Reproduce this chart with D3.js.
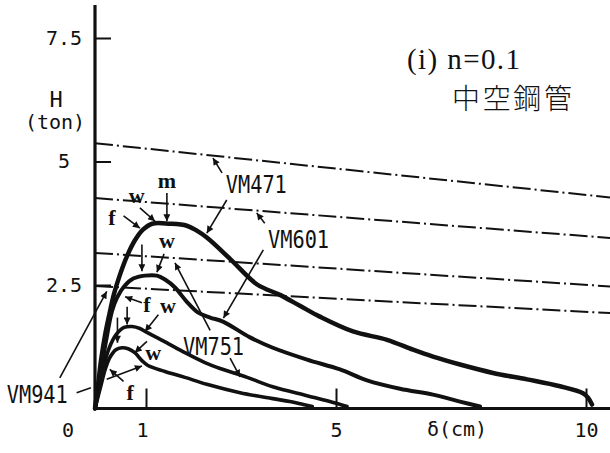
<!DOCTYPE html>
<html>
<head>
<meta charset="utf-8">
<script src="https://cdn.jsdelivr.net/npm/d3@7"></script>
<style>
  html, body { margin: 0; padding: 0; background: #fff; }
  svg { display: block; }
  .mono { font-family: "DejaVu Sans Mono", monospace; fill: #111; }
  .serif { font-family: "Liberation Serif", "Times New Roman", serif; fill: #111; }
</style>
</head>
<body>
<div id="chart"></div>
<script>
const width = 610;
const height = 453;

const xTicks = [1, 5, 10];
const yTicks = [2.5, 5, 7.5];
const yTickLabels = ["2.5", "5", "7.5"];

const specimens = ["VM471", "VM601", "VM751", "VM941"];

// measured H-delta curves, delta in cm, H in ton
const deltaVM471 = [0, 0.06, 0.12, 0.2, 0.28, 0.37, 0.49, 0.63, 0.78, 0.94, 1.13, 1.5, 1.86, 2.07, 2.28, 2.77, 3.34, 3.82, 4.24, 4.66, 5.34, 6.02, 6.54, 6.94, 7.48, 8.14, 8.82, 9.48, 9.94, 10.04, 10.12];
const hVM471 = [0, 0.48, 0.99, 1.5, 1.9, 2.31, 2.71, 3.09, 3.4, 3.62, 3.74, 3.74, 3.7, 3.6, 3.46, 3.03, 2.51, 2.3, 2.08, 1.86, 1.56, 1.39, 1.19, 1.05, 0.89, 0.72, 0.59, 0.45, 0.31, 0.22, 0.08];

const deltaVM601 = [0, 0.08, 0.16, 0.24, 0.33, 0.43, 0.57, 0.75, 0.98, 1.23, 1.4, 1.61, 1.86, 2.1, 2.35, 2.62, 3.19, 3.67, 4.39, 5.08, 5.62, 6.28, 6.94, 7.48, 7.88];
const hVM601 = [0, 0.48, 1.03, 1.5, 1.96, 2.24, 2.47, 2.63, 2.69, 2.69, 2.61, 2.45, 2.16, 1.94, 1.84, 1.76, 1.44, 1.23, 0.99, 0.79, 0.57, 0.4, 0.28, 0.14, 0.04];

const deltaVM751 = [0, 0.1, 0.18, 0.28, 0.41, 0.57, 0.73, 0.88, 1.02, 1.4, 1.82, 2.24, 2.56, 3.13, 3.67, 4.39, 4.87, 5.22];
const hVM751 = [0, 0.48, 0.89, 1.23, 1.49, 1.64, 1.66, 1.62, 1.54, 1.35, 1.13, 0.93, 0.81, 0.63, 0.44, 0.26, 0.14, 0.04];

const deltaVM941 = [0, 0.12, 0.2, 0.29, 0.41, 0.53, 0.65, 0.78, 0.92, 1.04, 1.4, 1.82, 2.28, 2.98, 3.67, 4.03, 4.31, 4.5];
const hVM941 = [0, 0.48, 0.79, 1.03, 1.19, 1.23, 1.21, 1.13, 0.97, 0.87, 0.75, 0.63, 0.49, 0.32, 0.2, 0.14, 0.08, 0.04];

// dash-dot lines (one per specimen): H at delta = 0 and at the right end
const lineDeltaEnd = 10.5;
const lineH0 = [5.37, 4.26, 3.15, 2.48];
const lineH1 = [4.27, 3.45, 2.47, 1.93];

const curves = [
  {name: "VM471", d: deltaVM471, h: hVM471, w: 4.5},
  {name: "VM601", d: deltaVM601, h: hVM601, w: 4},
  {name: "VM751", d: deltaVM751, h: hVM751, w: 3.6},
  {name: "VM941", d: deltaVM941, h: hVM941, w: 3.6}
];

// annotation arrows [d1, h1, d2, h2], head at the second point
const arrows = [
  [0.56, 3.9, 0.88, 3.65], [0.88, 4.06, 1.19, 3.79], [1.44, 4.36, 1.44, 3.79],
  [0.92, 3.32, 0.92, 2.78], [1.38, 3.13, 1.23, 2.76], [0.92, 2.14, 0.59, 2.26],
  [0.63, 2.06, 0.63, 1.7], [1.26, 1.9, 0.98, 1.56],
  [0.44, 1.84, 0.44, 1.33], [1.02, 1.36, 0.78, 1.13], [0.56, 0.55, 0.29, 0.79],
  [0.23, 0.59, 0.92, 0.86], [-0.69, 0.62, 0.23, 2.37],
  [2.6, 4.77, 2.41, 5.07], [2.7, 4.22, 2.28, 3.55],
  [3.5, 3.75, 3.33, 3.96], [3.47, 3.21, 2.63, 1.83],
  [2.35, 1.58, 1.61, 2.95], [2.77, 1.02, 2.98, 0.64]
];
const plainLines = [[-0.36, 0.32, -0.08, 0.42]];

// f / w / m marks (x centre, baseline)
const letters = [
  ["m", 1.44, 4.47], ["w", 0.82, 4.16], ["f", 0.33, 3.72],
  ["w", 1.44, 3.25], ["f", 1.02, 1.96], ["w", 1.46, 1.94],
  ["w", 1.15, 0.99], ["f", 0.69, 0.18]
];
// specimen labels (left x, baseline)
const nameX = [2.68, 3.57, 1.78, -1.73];
const nameH = [4.37, 3.25, 1.09, 0.12];

const x = d3.scaleLinear().domain([0, 1, 5, 10]).range([95, 146, 336, 586]);
const y = d3.scaleLinear().domain([0, 7.5]).range([408.5, 38]);

const svg = d3.select("#chart")
  .append("svg")
  .attr("width", width)
  .attr("height", height);

svg.append("defs").append("marker")
  .attr("id", "arrow")
  .attr("viewBox", "0 0 10 10")
  .attr("refX", 10)
  .attr("refY", 5)
  .attr("markerWidth", 9)
  .attr("markerHeight", 7)
  .attr("markerUnits", "userSpaceOnUse")
  .attr("orient", "auto")
  .append("path")
  .attr("d", "M0,0 L10,5 L0,10 Z")
  .attr("fill", "#111");

// dash-dot lines
svg.selectAll("line.ref")
  .data(lineH0)
  .enter()
  .append("line")
  .attr("class", "ref")
  .attr("x1", x(0))
  .attr("y1", d => y(d))
  .attr("x2", x(lineDeltaEnd))
  .attr("y2", (d, i) => y(lineH1[i]))
  .attr("stroke", "#111")
  .attr("stroke-width", 2)
  .attr("stroke-dasharray", "18,4,2,4");

// axes
const yAxis = d3.axisLeft(y).tickValues(yTicks).tickSize(-16).tickFormat((d, i) => yTickLabels[i]);
const gy = svg.append("g").attr("transform", `translate(${x(0)},0)`).call(yAxis);
gy.select(".domain").remove();
gy.selectAll(".tick line").attr("stroke", "#111").attr("stroke-width", 2);
gy.selectAll(".tick text")
  .attr("class", "mono")
  .attr("x", -31)
  .attr("text-anchor", "middle")
  .style("font-size", "20px");

const xAxis = d3.axisBottom(x).tickValues(xTicks).tickSize(-20).tickPadding(14);
const gx = svg.append("g").attr("transform", `translate(0,${y(0)})`).call(xAxis);
gx.select(".domain").remove();
gx.selectAll(".tick line").attr("stroke", "#111").attr("stroke-width", 2);
gx.selectAll(".tick text")
  .attr("class", "mono")
  .attr("dx", d => d === 1 ? -4 : 0)
  .style("font-size", "20px");

svg.append("line")
  .attr("x1", x(0)).attr("x2", x(0))
  .attr("y1", y(8.17)).attr("y2", y(0) + 1)
  .attr("stroke", "#111").attr("stroke-width", 3.2);
svg.append("line")
  .attr("x1", x(0)).attr("x2", width)
  .attr("y1", y(0)).attr("y2", y(0))
  .attr("stroke", "#111").attr("stroke-width", 2.8);

// curves
const line = d3.line()
  .x(p => x(p[0]))
  .y(p => y(p[1]))
  .curve(d3.curveCatmullRom.alpha(0.5));

svg.selectAll("path.curve")
  .data(curves)
  .enter()
  .append("path")
  .attr("class", "curve")
  .attr("d", c => line(c.d.map((v, i) => [v, c.h[i]])))
  .attr("fill", "none")
  .attr("stroke", "#111")
  .attr("stroke-width", c => c.w)
  .attr("stroke-linecap", "round")
  .attr("stroke-linejoin", "round");

// annotation arrows
svg.selectAll("line.arrow")
  .data(arrows)
  .enter()
  .append("line")
  .attr("class", "arrow")
  .attr("x1", a => x(a[0]))
  .attr("y1", a => y(a[1]))
  .attr("x2", a => x(a[2]))
  .attr("y2", a => y(a[3]))
  .attr("stroke", "#111")
  .attr("stroke-width", 1.6)
  .attr("marker-end", "url(#arrow)");

svg.selectAll("line.plain")
  .data(plainLines)
  .enter()
  .append("line")
  .attr("x1", a => x(a[0]))
  .attr("y1", a => y(a[1]))
  .attr("x2", a => x(a[2]))
  .attr("y2", a => y(a[3]))
  .attr("stroke", "#111")
  .attr("stroke-width", 1.6);

svg.selectAll("text.letter")
  .data(letters)
  .enter()
  .append("text")
  .attr("class", "serif")
  .attr("x", d => x(d[1]))
  .attr("y", d => y(d[2]))
  .attr("text-anchor", "middle")
  .style("font-size", "22px")
  .style("font-weight", "bold")
  .text(d => d[0]);

svg.selectAll("text.name")
  .data(specimens)
  .enter()
  .append("text")
  .attr("class", "mono")
  .attr("x", (d, i) => x(nameX[i]))
  .attr("y", (d, i) => y(nameH[i]))
  .attr("textLength", 61)
  .attr("lengthAdjust", "spacingAndGlyphs")
  .style("font-size", "24px")
  .text(d => d);

// axis titles and origin
svg.append("text").attr("class", "mono")
  .attr("x", 68).attr("y", y(0) + 28.5)
  .attr("text-anchor", "middle").style("font-size", "20px").text("0");
svg.append("text").attr("class", "mono")
  .attr("x", 56).attr("y", 107)
  .attr("text-anchor", "middle").style("font-size", "22px").text("H");
svg.append("text").attr("class", "mono")
  .attr("x", 55).attr("y", 129)
  .attr("text-anchor", "middle").style("font-size", "20px").text("(ton)");
svg.append("text").attr("class", "mono")
  .attr("x", 457).attr("y", 436)
  .attr("text-anchor", "middle").style("font-size", "20px").text("δ(cm)");

// title
svg.append("text").attr("class", "serif")
  .attr("x", 407).attr("y", 69)
  .attr("textLength", 113).attr("lengthAdjust", "spacing")
  .style("font-size", "29px").text("(i) n=0.1");
svg.append("text")
  .attr("x", 452).attr("y", 109)
  .attr("textLength", 120).attr("lengthAdjust", "spacing")
  .style("font-family", "'Noto Sans CJK JP', sans-serif")
  .style("font-size", "28px")
  .style("font-weight", 300)
  .style("fill", "#111")
  .text("中空鋼管");
</script>
</body>
</html>
